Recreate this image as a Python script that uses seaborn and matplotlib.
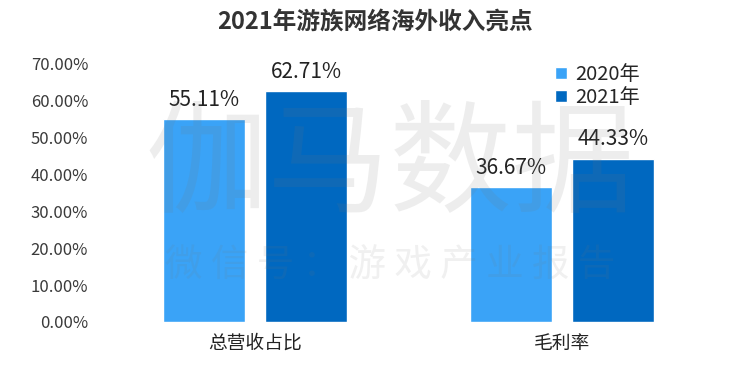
import pandas as pd
import matplotlib
matplotlib.use("Agg")
import matplotlib.pyplot as plt
import seaborn as sns

categories = ['总营收占比', '毛利率']
years = ['2020年', '2021年']
values_2020 = [55.11, 36.67]
values_2021 = [62.71, 44.33]
colors = ['#3AA3F7', '#0068C0']

df = pd.DataFrame({
    'category': categories * 2,
    'year': [years[0]] * 2 + [years[1]] * 2,
    'value': values_2020 + values_2021,
})

sns.set_style('white')
plt.rcParams['font.family'] = ['Noto Sans CJK SC', 'DejaVu Sans']

fig = plt.figure(figsize=(7.5, 3.78), dpi=100)
ax = fig.add_axes([95 / 750, 1 - 322 / 378, 645 / 750, 258 / 378])

sns.barplot(data=df, x='category', y='value', hue='year', palette=colors,
            width=0.665, gap=0.2, saturation=1, ax=ax)

ax.set_ylim(0, 70)
ax.set_xlim(-0.521, 1.58)
ax.set_yticks(range(0, 71, 10))
ax.set_yticklabels([f'{v:.2f}%' for v in range(0, 71, 10)], fontsize=12, color='#3a3a3a')
ax.tick_params(axis='x', labelsize=13.5, colors='#222222', pad=8, length=0)
ax.tick_params(axis='y', length=0, pad=5)
ax.set_xlabel('')
ax.set_ylabel('')
sns.despine(ax=ax, left=True, bottom=True, top=True, right=True)

for cont in ax.containers:
    ax.bar_label(cont, labels=[f'{v:.2f}%' for v in cont.datavalues],
                 fontsize=15, color='#222222', padding=6)

ax.legend(loc='upper left', bbox_to_anchor=(0.685, 1.07), frameon=False,
          fontsize=14.5, handlelength=0.6, handleheight=0.6, handletextpad=0.4,
          labelspacing=0.1)

# watermark (faint, over the bars as in the source image)
fig.text(0.52, 0.555, '伽马数据', fontsize=88, color='#777777', alpha=0.13,
         ha='center', va='center', zorder=10)
fig.text(0.52, 0.295, '微 信 号 ： 游 戏 产 业 报 告', fontsize=27,
         color='#777777', alpha=0.11, ha='center', va='center', zorder=10)

fig.suptitle('2021年游族网络海外收入亮点', fontsize=17, fontweight='bold',
             color='#333333', y=0.975)

fig.savefig('out.png', dpi=100)
